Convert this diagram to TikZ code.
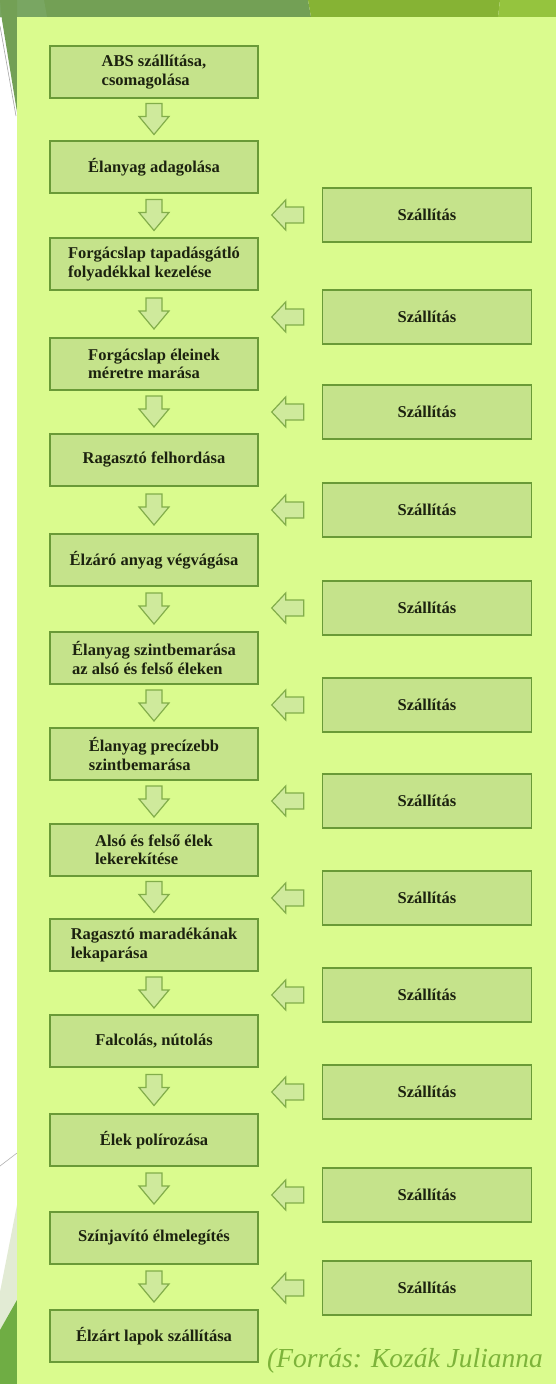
\documentclass[tikz,border=0pt]{standalone}
\usepackage{fontspec}
\setmainfont{Liberation Serif}
\usetikzlibrary{calc}
\definecolor{panel}{HTML}{DAFB8E}
\definecolor{boxfill}{HTML}{C5E38B}
\definecolor{boxline}{HTML}{6A9A37}
\definecolor{arrfill}{HTML}{CFEA9C}
\definecolor{arrline}{HTML}{82AD4A}
\definecolor{txt}{HTML}{1C220F}
\definecolor{srccol}{HTML}{7DB33A}
\definecolor{topA}{HTML}{73A055}
\definecolor{topAl}{HTML}{79A662}
\definecolor{topB}{HTML}{86B334}
\definecolor{topC}{HTML}{95C43E}
\definecolor{pale}{HTML}{E2EBD4}
\definecolor{botG}{HTML}{6FAD44}
\begin{document}
\begin{tikzpicture}[x=1pt,y=-1pt,
  stepbox/.style={draw=boxline, line width=1.6pt, fill=boxfill,
    minimum width=208pt, minimum height=52pt, inner sep=0pt,
    font=\fontsize{16.5}{18.5}\selectfont\bfseries, text=txt, align=left},
  shipbox/.style={stepbox, minimum width=209pt, minimum height=54pt},
  arrsty/.style={fill=arrfill, draw=arrline, line width=1.2pt, line join=miter},
  darrow/.pic={\path[arrsty] (-8,-16) -- (8,-16) -- (8,-3) -- (15,-3) -- (0,15)
     -- (-15,-3) -- (-8,-3) -- cycle;},
  larrow/.pic={\path[arrsty] (16,-8) -- (-2,-8) -- (-2,-15) -- (-16,0)
     -- (-2,15) -- (-2,8) -- (16,8) -- cycle;}
]
\clip (0,0) rectangle (556,1384);
% slide background
\fill[white] (0,0) rectangle (556,1384);
\fill[topA] (0,0) -- (308,0) -- (311,17) -- (0,17) -- cycle;
\fill[topAl] (0,0) -- (44,0) -- (47,17) -- (0,17) -- cycle;
\fill[topB] (308,0) -- (500,0) -- (498,17) -- (311,17) -- cycle;
\fill[topC] (500,0) -- (556,0) -- (556,17) -- (498,17) -- cycle;
\fill[topA] (0,0) -- (17,0) -- (17,112) -- (2,20) -- cycle;
\draw[gray!70, line width=0.6pt] (0,26) -- (16,116);
\draw[gray!60, line width=0.6pt] (17,1153) -- (0,1166);
\fill[pale] (17,1205) -- (17,1384) -- (0,1384) -- (0,1292) -- cycle;
\fill[botG] (17,1300) -- (17,1384) -- (0,1384) -- (0,1330) -- cycle;
\fill[panel] (17,17) rectangle (556,1384);
% process steps
\node[stepbox] (b1)  at (154,72)   {ABS szállítása,\\csomagolása};
\node[stepbox] (b2)  at (154,167)  {Élanyag adagolása};
\node[stepbox] (b3)  at (154,264)  {Forgácslap tapadásgátló\\folyadékkal kezelése};
\node[stepbox] (b4)  at (154,364)  {Forgácslap éleinek\\méretre marása};
\node[stepbox] (b5)  at (154,460)  {Ragasztó felhordása};
\node[stepbox] (b6)  at (154,560)  {Élzáró anyag végvágása};
\node[stepbox] (b7)  at (154,658)  {Élanyag szintbemarása\\az alsó és felső éleken};
\node[stepbox] (b8)  at (154,754)  {Élanyag precízebb\\szintbemarása};
\node[stepbox] (b9)  at (154,850)  {Alsó és felső élek\\lekerekítése};
\node[stepbox] (b10) at (154,945)  {Ragasztó maradékának\\lekaparása};
\node[stepbox] (b11) at (154,1041) {Falcolás, nútolás};
\node[stepbox] (b12) at (154,1140) {Élek polírozása};
\node[stepbox] (b13) at (154,1238) {Színjavító élmelegítés};
\node[stepbox] (b14) at (154,1336) {Élzárt lapok szállítása};
% transport boxes
\node[shipbox] (s1)  at (427,215)  {Szállítás};
\node[shipbox] (s2)  at (427,317)  {Szállítás};
\node[shipbox] (s3)  at (427,412)  {Szállítás};
\node[shipbox] (s4)  at (427,510)  {Szállítás};
\node[shipbox] (s5)  at (427,608)  {Szállítás};
\node[shipbox] (s6)  at (427,705)  {Szállítás};
\node[shipbox] (s7)  at (427,801)  {Szállítás};
\node[shipbox] (s8)  at (427,898)  {Szállítás};
\node[shipbox] (s9)  at (427,995)  {Szállítás};
\node[shipbox] (s10) at (427,1092) {Szállítás};
\node[shipbox] (s11) at (427,1195) {Szállítás};
\node[shipbox] (s12) at (427,1288) {Szállítás};
% down arrows between steps
\foreach \i [evaluate=\i as \j using int(\i+1)] in {1,...,13}
  \pic at ($(b\i.south)!0.5!(b\j.north)$) {darrow};
% side arrows from transport boxes
\foreach \k in {1,...,12}
  \pic at ([xshift=-34pt]s\k.west) {larrow};
% source
\node[anchor=base west, inner sep=0pt, text=srccol,
  font=\fontsize{27.5}{30}\selectfont\itshape] (src) at (267,1367) {(Forrás: Kozák Julianna};
\end{tikzpicture}
\end{document}
